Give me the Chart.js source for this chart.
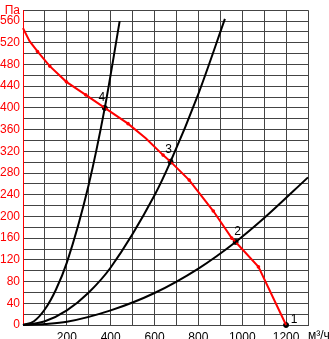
<!DOCTYPE html>
<html>
<head>
<meta charset="utf-8">
<script src="https://cdn.jsdelivr.net/npm/chart.js@4.4.0/dist/chart.umd.min.js"></script>
<style>
  html, body { margin: 0; padding: 0; background: #fff; }
  #wrap { width: 329px; height: 339px; }
</style>
</head>
<body>
<div id="wrap"><canvas id="c"></canvas></div>
<script>
// Fan curve (red), m3/h vs Pa
const fanQ = [0, 30, 66, 122, 198, 286, 373, 479, 560, 639, 673, 758, 868, 952, 970, 1074, 1200];
const fanP = [547, 523, 504, 477, 448, 424, 400, 371, 344, 313, 301, 267, 210, 160, 153, 107, 0];

// System curves (black)
const sysAQ = [0, 50, 100, 150, 200, 300, 373, 441];
const sysAP = [0, 7, 29, 65, 115, 259, 400, 560];
const sysBQ = [0, 100, 200, 300, 400, 600, 673, 800, 921];
const sysBP = [0, 7, 27, 60, 106, 239, 301, 426, 564];
const sysCQ = [0, 100, 200, 400, 600, 800, 970, 1100, 1300];
const sysCP = [0, 2, 6, 27, 59, 104, 153, 197, 272];

// Operating points
const opNames = ['1', '2', '3', '4'];
const opQ = [1200, 970, 673, 373];
const opP = [0, 153, 301, 400];

const xUnit = 'м³/ч';
const yUnit = 'Па';

const FONT = '"Liberation Sans", Arial, sans-serif';
const toXY = (qs, ps) => qs.map((q, i) => ({ x: q, y: ps[i] }));

const sysStyle = {
    borderColor: '#000',
    borderWidth: 2,
    pointRadius: 0,
    tension: 0.4,
    cubicInterpolationMode: 'monotone',
    fill: false
};

const labelOffsets = [[8, -5], [2, -10], [-2, -12], [-3, -10]];

const extraText = {
    id: 'extraText',
    afterDatasetsDraw(chart) {
        const ctx = chart.ctx;
        const xs = chart.scales.x, ys = chart.scales.y;
        ctx.save();
        ctx.fillStyle = '#000';
        ctx.font = '12px ' + FONT;
        ctx.textAlign = 'center';
        ctx.textBaseline = 'middle';
        opNames.forEach((n, i) => {
            const px = xs.getPixelForValue(opQ[i]);
            const py = ys.getPixelForValue(opP[i]);
            ctx.fillText(n, px + labelOffsets[i][0], py + labelOffsets[i][1]);
        });
        // unit on the x axis
        ctx.textAlign = 'left';
        ctx.fillText(xUnit, chart.chartArea.right, chart.chartArea.bottom + 11);
        ctx.restore();
    }
};

new Chart(document.getElementById('c'), {
    type: 'line',
    data: {
        datasets: [
            Object.assign({ data: toXY(sysAQ, sysAP) }, sysStyle),
            Object.assign({ data: toXY(sysBQ, sysBP) }, sysStyle),
            Object.assign({ data: toXY(sysCQ, sysCP) }, sysStyle),
            {
                data: toXY(fanQ, fanP),
                borderColor: '#ff0000',
                backgroundColor: '#ff0000',
                borderWidth: 2,
                pointRadius: fanQ.map(q => (opQ.includes(q) || q === 0 || q === 30 || q === 560) ? 0 : 1.8),
                pointBorderWidth: 0,
                tension: 0,
                fill: false
            },
            {
                data: toXY(opQ, opP),
                showLine: false,
                pointRadius: 2.5,
                pointBackgroundColor: '#000',
                pointBorderColor: '#000',
                pointBorderWidth: 1
            }
        ]
    },
    options: {
        responsive: true,
        maintainAspectRatio: false,
        animation: false,
        clip: false,
        layout: { padding: { top: 5, right: 21, left: 0, bottom: 0 } },
        plugins: { legend: { display: false }, tooltip: { enabled: false } },
        scales: {
            x: {
                type: 'linear',
                min: 0,
                max: 1300,
                afterFit: s => { s.height = 14; },
                grid: { color: '#444', lineWidth: 1, drawTicks: false },
                border: { color: '#444', width: 1 },
                ticks: {
                    stepSize: 100,
                    autoSkip: false,
                    maxRotation: 0,
                    padding: 5,
                    color: '#000',
                    font: { family: FONT, size: 12 },
                    callback: v => (v % 200 === 0 && v > 0 && v < 1300) ? String(v) : ''
                }
            },
            y: {
                min: 0,
                max: 580,
                afterFit: s => { s.width = 23; },
                grid: { color: '#444', lineWidth: 1, drawTicks: false },
                border: { color: '#ff0000', width: 1 },
                ticks: {
                    stepSize: 20,
                    autoSkip: false,
                    padding: 3,
                    color: '#ff0000',
                    font: { family: FONT, size: 12 },
                    callback: v => v === 580 ? yUnit : (v % 40 === 0 ? String(v) : '')
                }
            }
        }
    },
    plugins: [extraText]
});
</script>
</body>
</html>
